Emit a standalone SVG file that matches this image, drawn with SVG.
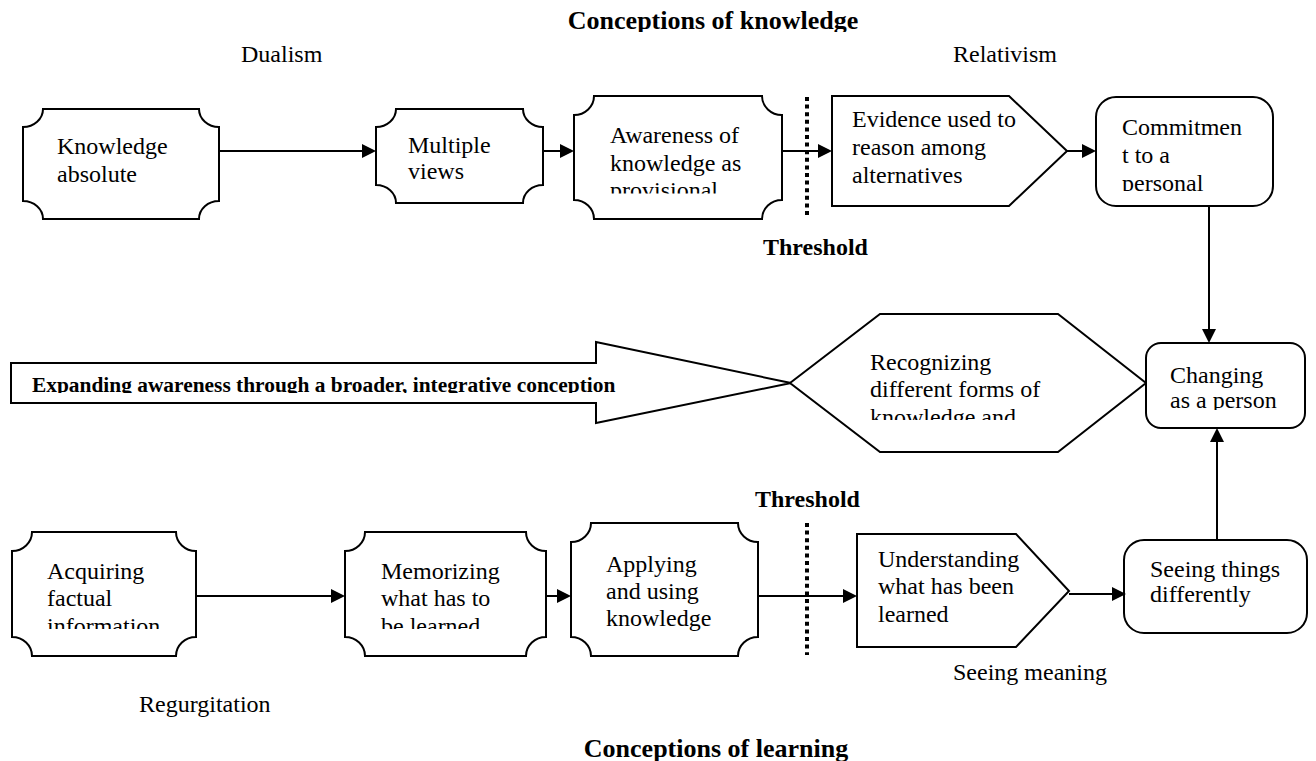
<svg xmlns="http://www.w3.org/2000/svg" width="1316" height="761" viewBox="0 0 1316 761">
  <style>
    .shape { fill: #fff; stroke: #000; stroke-width: 2; }
    .txt { font-family: "Liberation Serif", "Times New Roman", serif; font-size: 24px; fill: #000; }
    .bold { font-family: "Liberation Serif", "Times New Roman", serif; font-weight: bold; fill: #000; }
    .link { stroke: #000; stroke-width: 2; fill: none; marker-end: url(#arrow); }
    .threshold-line { stroke: #000; stroke-width: 4; stroke-dasharray: 4 3.6; }
  </style>
  <defs>
    <marker id="arrow" markerUnits="userSpaceOnUse" markerWidth="14" markerHeight="14" refX="10" refY="7" orient="auto">
      <path d="M0,0 L14,7 L0,14 z" fill="#000"/>
    </marker>
    <clipPath id="clip-title"><rect x="0" y="0" width="1316" height="32"/></clipPath>
    <clipPath id="clip-awareness"><rect x="574" y="96" width="208" height="97.5"/></clipPath>
    <clipPath id="clip-commitment"><rect x="1096" y="97" width="177" height="94"/></clipPath>
    <clipPath id="clip-expanding"><rect x="11" y="342" width="780" height="51"/></clipPath>
    <clipPath id="clip-recognizing"><rect x="790" y="314" width="356" height="106"/></clipPath>
    <clipPath id="clip-changing"><rect x="1146" y="343" width="159" height="67"/></clipPath>
    <clipPath id="clip-acquiring"><rect x="12" y="532" width="184" height="97"/></clipPath>
    <clipPath id="clip-memorizing"><rect x="345" y="532" width="201" height="97"/></clipPath>
  </defs>

  <!-- headings and side labels -->
  <g id="labels">
    <text class="bold" font-size="26" x="713" y="29" text-anchor="middle" clip-path="url(#clip-title)">Conceptions of knowledge</text>
    <text class="txt" x="241" y="62">Dualism</text>
    <text class="txt" x="953" y="62">Relativism</text>
    <text class="bold" font-size="24" x="763" y="255">Threshold</text>
    <text class="bold" font-size="24" x="755" y="507">Threshold</text>
    <text class="txt" x="953" y="680">Seeing meaning</text>
    <text class="txt" x="139" y="712">Regurgitation</text>
    <text class="bold" font-size="26" x="716" y="757" text-anchor="middle">Conceptions of learning</text>
  </g>

  <!-- threshold markers -->
  <g id="thresholds">
    <line class="threshold-line" x1="807" y1="97" x2="807" y2="218"/>
    <line class="threshold-line" x1="807" y1="523" x2="807" y2="655"/>
  </g>

  <!-- top row: conceptions of knowledge -->
  <g id="knowledge-absolute">
    <path class="shape" d="M43,109 H199 A20,18 0 0 0 219,127 V201 A20,18 0 0 0 199,219 H43 A20,18 0 0 0 23,201 V127 A20,18 0 0 0 43,109 Z"/>
    <text class="txt" x="57" y="154">Knowledge</text>
    <text class="txt" x="57" y="182">absolute</text>
  </g>
  <g id="multiple-views">
    <path class="shape" d="M396,109 H523 A20,18 0 0 0 543,127 V185 A20,18 0 0 0 523,203 H396 A20,18 0 0 0 376,185 V127 A20,18 0 0 0 396,109 Z"/>
    <text class="txt" x="408" y="153">Multiple</text>
    <text class="txt" x="408" y="179">views</text>
  </g>
  <g id="awareness">
    <path class="shape" d="M594,96 H762 A20,19 0 0 0 782,115 V200 A20,19 0 0 0 762,219 H594 A20,19 0 0 0 574,200 V115 A20,19 0 0 0 594,96 Z"/>
    <g clip-path="url(#clip-awareness)">
      <text class="txt" x="610" y="143">Awareness of</text>
      <text class="txt" x="610" y="171">knowledge as</text>
      <text class="txt" x="610" y="198">provisional</text>
    </g>
  </g>
  <g id="evidence">
    <polygon class="shape" points="832,96 1009,96 1067,151 1009,206 832,206"/>
    <text class="txt" x="852" y="127">Evidence used to</text>
    <text class="txt" x="852" y="155">reason among</text>
    <text class="txt" x="852" y="183">alternatives</text>
  </g>
  <g id="commitment">
    <rect class="shape" x="1096" y="97" width="177" height="109" rx="20" ry="20"/>
    <g clip-path="url(#clip-commitment)">
      <text class="txt" x="1122" y="135">Commitmen</text>
      <text class="txt" x="1122" y="163">t to a</text>
      <text class="txt" x="1122" y="191">personal</text>
    </g>
  </g>

  <!-- middle band -->
  <g id="expanding-awareness">
    <polygon class="shape" points="11,363 596,363 596,342 791,383 596,423 596,403 11,403"/>
    <text class="bold" font-size="21.4" x="32" y="392" clip-path="url(#clip-expanding)">Expanding awareness through a broader, integrative conception</text>
  </g>
  <g id="recognizing">
    <polygon class="shape" points="790,383 880,314 1058,314 1146,383 1058,452 880,452"/>
    <g clip-path="url(#clip-recognizing)">
      <text class="txt" x="870" y="370">Recognizing</text>
      <text class="txt" x="870" y="397">different forms of</text>
      <text class="txt" x="870" y="425">knowledge and</text>
    </g>
  </g>
  <g id="changing">
    <rect class="shape" x="1146" y="343" width="159" height="85" rx="15" ry="15"/>
    <g clip-path="url(#clip-changing)">
      <text class="txt" x="1170" y="383">Changing</text>
      <text class="txt" x="1170" y="408">as a person</text>
    </g>
  </g>

  <!-- bottom row: conceptions of learning -->
  <g id="acquiring">
    <path class="shape" d="M32,532 H176 A20,19 0 0 0 196,551 V637 A20,19 0 0 0 176,656 H32 A20,19 0 0 0 12,637 V551 A20,19 0 0 0 32,532 Z"/>
    <g clip-path="url(#clip-acquiring)">
      <text class="txt" x="47" y="579">Acquiring</text>
      <text class="txt" x="47" y="606">factual</text>
      <text class="txt" x="47" y="634">information</text>
    </g>
  </g>
  <g id="memorizing">
    <path class="shape" d="M365,532 H526 A20,19 0 0 0 546,551 V637 A20,19 0 0 0 526,656 H365 A20,19 0 0 0 345,637 V551 A20,19 0 0 0 365,532 Z"/>
    <g clip-path="url(#clip-memorizing)">
      <text class="txt" x="381" y="579">Memorizing</text>
      <text class="txt" x="381" y="606">what has to</text>
      <text class="txt" x="381" y="634">be learned</text>
    </g>
  </g>
  <g id="applying">
    <path class="shape" d="M591,523 H738 A20,19 0 0 0 758,542 V637 A20,19 0 0 0 738,656 H591 A20,19 0 0 0 571,637 V542 A20,19 0 0 0 591,523 Z"/>
    <text class="txt" x="606" y="572">Applying</text>
    <text class="txt" x="606" y="599">and using</text>
    <text class="txt" x="606" y="626">knowledge</text>
  </g>
  <g id="understanding">
    <polygon class="shape" points="857,534 1016,534 1069,591 1016,647 857,647"/>
    <text class="txt" x="878" y="567">Understanding</text>
    <text class="txt" x="878" y="594">what has been</text>
    <text class="txt" x="878" y="622">learned</text>
  </g>
  <g id="seeing">
    <rect class="shape" x="1124" y="540" width="183" height="93" rx="20" ry="20"/>
    <text class="txt" x="1150" y="577">Seeing things</text>
    <text class="txt" x="1150" y="602">differently</text>
  </g>

  <!-- connectors -->
  <g id="connectors">
    <line class="link" x1="219" y1="151" x2="372" y2="151"/>
    <line class="link" x1="543" y1="151" x2="570" y2="151"/>
    <line class="link" x1="782" y1="151" x2="828" y2="151"/>
    <line class="link" x1="1067" y1="151" x2="1092" y2="151"/>
    <line class="link" x1="1209" y1="206" x2="1209" y2="339"/>
    <line class="link" x1="196" y1="596" x2="341" y2="596"/>
    <line class="link" x1="546" y1="596" x2="567" y2="596"/>
    <line class="link" x1="758" y1="596" x2="853" y2="596"/>
    <line class="link" x1="1069" y1="594" x2="1122" y2="594"/>
    <line class="link" x1="1217" y1="540" x2="1217" y2="432"/>
  </g>
</svg>
